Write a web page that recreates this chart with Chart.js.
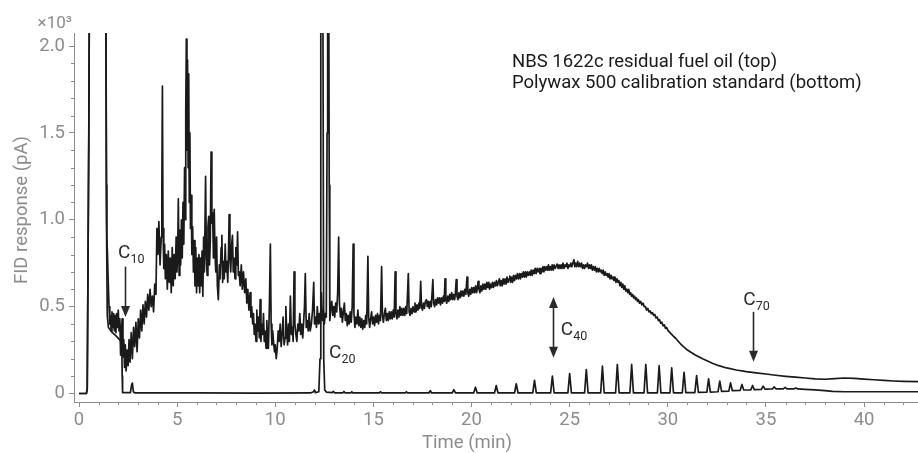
<!DOCTYPE html>
<html><head><meta charset="utf-8">
<script src="https://cdn.jsdelivr.net/npm/chart.js@4.4.1/dist/chart.umd.min.js"></script>
<style>html,body{margin:0;padding:0;background:#fff}#wrap{width:918px;height:453px;position:relative}</style>
</head><body><div id="wrap"><canvas id="c"></canvas></div>
<script>
// Time (min) , FID response (×10^3 pA) — NBS 1622c residual fuel oil (top trace)
const fuelOil = [
[0,0],[0.38,0],[0.42,0.03],[0.5,1.5],[0.54,2.6],[1.36,2.6],[1.40,1.2],[1.42,0.90],[1.45,0.80],[1.49,0.64],[1.53,0.50],[1.57,0.40],
[1.60,0.45],[1.64,0.36],[1.68,0.47],[1.72,0.38],[1.76,0.46],[1.80,0.36],[1.84,0.45],[1.88,0.35],[1.92,0.46],[1.96,0.38],[2.00,0.48],[2.04,0.36],[2.08,0.43],[2.12,0.22],[2.16,0.37],[2.20,0.43],[2.24,0.21],[2.28,0.31],[2.32,0.15],[2.36,0.28],[2.40,0.13],[2.45,0.25],[2.50,0.16],[2.55,0.31],[2.60,0.18],[2.66,0.35],[2.72,0.20],[2.78,0.38],[2.84,0.27],[2.90,0.41],[2.96,0.24],[3.02,0.43],[3.08,0.32],[3.14,0.48],[3.20,0.36],[3.26,0.51],[3.32,0.40],[3.38,0.53],[3.44,0.44],[3.50,0.57],[3.56,0.48],[3.62,0.60],[3.68,0.50],[3.74,0.56],[3.80,0.47],[3.86,0.63],[3.92,0.57],[3.97,0.95],[4.02,0.80],[4.07,0.99],[4.13,0.74],[4.19,0.90],[4.22,1.15],[4.25,1.77],[4.28,0.95],[4.32,0.72],[4.36,0.86],[4.40,0.66],[4.45,0.80],[4.50,0.60],[4.55,0.82],[4.60,0.64],[4.65,0.78],[4.70,0.58],[4.75,0.84],[4.80,0.62],[4.85,0.80],[4.90,0.66],[4.95,0.90],[4.99,0.70],[5.03,0.82],[5.06,1.12],[5.10,0.68],[5.14,0.94],[5.18,0.74],[5.22,1.00],[5.26,0.78],[5.30,1.10],[5.34,0.86],[5.38,1.30],[5.41,1.00],[5.44,1.62],[5.47,2.04],[5.50,1.40],[5.53,1.92],[5.56,1.30],[5.59,1.84],[5.62,1.10],[5.65,1.50],[5.68,0.95],[5.72,1.14],[5.75,0.80],[5.79,0.96],[5.83,0.70],[5.87,0.88],[5.91,0.62],[5.95,0.84],[5.99,0.58],[6.03,0.78],[6.07,0.62],[6.11,0.80],[6.15,0.58],[6.19,0.78],[6.23,0.62],[6.27,0.82],[6.31,0.56],[6.35,0.90],[6.39,0.70],[6.45,1.25],[6.49,0.78],[6.53,0.68],[6.57,0.96],[6.61,1.02],[6.65,0.74],[6.69,0.88],[6.73,1.39],[6.77,0.98],[6.81,1.04],[6.85,0.78],[6.89,1.06],[6.93,0.80],[6.97,0.70],[7.01,0.90],[7.05,0.62],
[7.10,0.54],[7.15,0.74],[7.19,0.66],[7.24,0.84],[7.28,0.91],[7.32,0.64],[7.36,0.76],[7.40,0.66],[7.45,0.86],[7.49,0.70],[7.53,0.76],[7.58,0.64],[7.62,0.82],[7.65,1.03],[7.69,0.78],[7.73,0.70],[7.78,0.86],[7.82,0.91],[7.86,0.70],[7.90,0.78],[7.95,0.66],[7.99,0.84],[8.04,0.74],[8.08,0.93],[8.12,0.68],[8.16,0.70],[8.21,0.62],[8.27,0.74],[8.32,0.60],[8.38,0.70],[8.44,0.58],[8.50,0.66],[8.55,0.52],[8.60,0.60],[8.66,0.48],[8.72,0.58],[8.76,0.44],[8.80,0.50],[8.85,0.40],[8.89,0.46],[8.93,0.34],[8.97,0.40],[9.02,0.30],[9.06,0.48],[9.10,0.36],[9.14,0.44],[9.19,0.32],[9.23,0.54],[9.27,0.30],[9.31,0.40],[9.36,0.34],[9.40,0.46],[9.44,0.30],[9.48,0.36],[9.53,0.26],[9.57,0.42],[9.61,0.30],[9.65,0.26],[9.70,0.50],[9.75,0.86],[9.79,0.40],[9.83,0.28],[9.87,0.36],[9.91,0.30],[9.96,0.24],[10.00,0.28],[10.05,0.20],[10.10,0.26],[10.15,0.36],[10.20,0.30],[10.25,0.40],[10.30,0.27],[10.35,0.34],[10.40,0.44],[10.45,0.28],[10.50,0.32],[10.54,0.50],[10.58,0.36],[10.63,0.28],[10.67,0.40],[10.72,0.30],[10.77,0.56],[10.82,0.34],[10.87,0.38],[10.91,0.30],[10.96,0.70],[11.00,0.40],[11.05,0.34],[11.10,0.30],[11.15,0.40],[11.20,0.36],[11.25,0.46],[11.30,0.34],[11.35,0.40],[11.40,0.32],[11.45,0.42],[11.49,0.50],[11.53,0.69],[11.58,0.38],[11.63,0.42],[11.68,0.36],[11.73,0.46],[11.78,0.36],[11.84,0.40],[11.90,0.48],[11.96,0.64],[12.00,0.40],[12.05,0.44],[12.10,0.38],[12.14,0.50],[12.20,0.40],[12.25,0.46],[12.30,0.40],[12.35,0.58],[12.40,0.42],[12.45,0.48],[12.50,0.40],[12.55,0.46],[12.60,0.44],[12.64,1.50],[12.67,2.60],[12.72,2.60],[12.75,1.20],
[12.78,0.42],[12.83,0.49],[12.88,0.53],[12.93,0.45],[12.98,0.50],[13.03,0.44],[13.08,0.52],[13.13,0.47],[13.18,0.58],[13.23,0.90],[13.27,0.52],[13.32,0.44],[13.37,0.49],[13.42,0.41],[13.47,0.47],[13.52,0.52],[13.57,0.42],[13.62,0.46],[13.67,0.39],[13.72,0.45],[13.77,0.40],[13.82,0.47],[13.87,0.41],[13.92,0.50],[13.97,0.86],[14.01,0.46],[14.06,0.38],[14.11,0.44],[14.16,0.40],[14.21,0.48],[14.26,0.39],[14.31,0.44],[14.36,0.38],[14.41,0.43],[14.46,0.37],[14.51,0.42],[14.56,0.38],[14.61,0.45],[14.66,0.40],[14.72,0.79],[14.76,0.44],[14.81,0.38],[14.86,0.43],[14.91,0.47],[14.96,0.40],[15.01,0.44],[15.06,0.39],[15.11,0.45],[15.16,0.41],[15.21,0.46],[15.26,0.40],[15.31,0.45],[15.36,0.42],[15.42,0.73],[15.46,0.45],[15.51,0.41],[15.56,0.46],[15.61,0.49],[15.66,0.42],[15.71,0.46],[15.76,0.42],[15.81,0.47],[15.86,0.43],[15.91,0.47],[15.96,0.43],[16.01,0.48],[16.06,0.44],[16.11,0.70],[16.15,0.46],[16.20,0.43],[16.25,0.48],[16.30,0.44],[16.35,0.50],[16.40,0.45],[16.45,0.49],[16.50,0.45],[16.55,0.49],[16.60,0.45],[16.65,0.50],[16.70,0.46],[16.78,0.69],[16.82,0.47],[16.87,0.45],[16.92,0.49],[16.97,0.46],[17.02,0.50],[17.07,0.47],[17.12,0.52],[17.17,0.47],[17.22,0.51],[17.27,0.48],[17.32,0.52],[17.36,0.49],[17.41,0.645],[17.45,0.50],[17.50,0.48],[17.55,0.52],[17.60,0.49],[17.65,0.53],[17.70,0.54],[17.75,0.50],[17.80,0.53],[17.85,0.49],[17.90,0.53],[17.95,0.50],[18.03,0.655],[18.07,0.52],[18.12,0.50],[18.17,0.54],[18.22,0.51],[18.27,0.55],[18.32,0.52],[18.37,0.55],[18.42,0.51],[18.47,0.55],[18.52,0.52],[18.57,0.56],[18.61,0.53],[18.65,0.66],[18.69,0.54],[18.74,0.52],[18.79,0.56],[18.84,0.53],[18.89,0.57],[18.94,0.54],[18.99,0.58],[19.04,0.54],[19.09,0.57],[19.14,0.54],[19.18,0.58],[19.22,0.655],[19.26,0.56],[19.31,0.54],[19.36,0.58],[19.41,0.55],[19.46,0.59],[19.51,0.56],[19.56,0.59],[19.61,0.56],[19.66,0.60],[19.71,0.57],[19.77,0.67],[19.81,0.58],[19.86,0.56],[19.91,0.60],[19.96,0.57],[20.01,0.61],[20.06,0.58],[20.11,0.61],[20.16,0.58],[20.21,0.62],[20.26,0.58],[20.30,0.61],[20.34,0.645],[20.38,0.60],[20.43,0.58],[20.48,0.62],[20.53,0.59],[20.58,0.63],[20.63,0.60],[20.68,0.63],[20.73,0.60],[20.78,0.64],[20.83,0.61],[20.88,0.64],
[20.92,0.60],[20.97,0.63],[21.02,0.61],[21.07,0.64],[21.12,0.61],[21.17,0.64],[21.22,0.62],[21.27,0.65],[21.32,0.62],[21.37,0.64],[21.42,0.66],[21.46,0.62],[21.51,0.65],[21.56,0.62],[21.61,0.66],[21.66,0.63],[21.71,0.66],[21.76,0.63],[21.81,0.67],[21.86,0.64],[21.91,0.66],[21.95,0.675],[21.99,0.64],[22.04,0.67],[22.09,0.64],[22.14,0.68],[22.19,0.65],[22.24,0.68],[22.29,0.66],[22.34,0.69],[22.39,0.66],[22.45,0.69],[22.49,0.66],[22.54,0.69],[22.59,0.67],[22.64,0.70],[22.69,0.67],[22.74,0.70],[22.79,0.67],[22.84,0.70],[22.89,0.68],[22.95,0.70],[22.99,0.68],[23.04,0.71],[23.09,0.68],[23.14,0.71],[23.19,0.69],[23.24,0.72],[23.29,0.69],[23.34,0.72],[23.39,0.70],[23.45,0.72],[23.49,0.69],[23.54,0.72],[23.59,0.70],[23.64,0.73],[23.69,0.70],[23.74,0.73],[23.79,0.71],[23.84,0.73],[23.88,0.71],[23.92,0.74],[23.96,0.71],[24.01,0.73],[24.06,0.71],[24.11,0.74],[24.16,0.71],[24.21,0.74],[24.26,0.72],[24.31,0.73],[24.36,0.745],[24.41,0.72],[24.46,0.74],[24.51,0.72],[24.56,0.74],[24.61,0.72],[24.66,0.75],[24.71,0.72],[24.76,0.74],[24.81,0.73],[24.86,0.75],[24.91,0.72],[24.96,0.74],[25.01,0.73],[25.06,0.75],[25.11,0.73],[25.16,0.75],[25.22,0.77],[25.26,0.73],[25.31,0.75],[25.36,0.73],[25.41,0.76],[25.46,0.73],[25.51,0.75],[25.56,0.73],[25.61,0.75],[25.66,0.72],[25.71,0.74],[25.76,0.72],[25.81,0.74],[25.86,0.73],[25.91,0.75],[25.96,0.72],[26.01,0.74],[26.06,0.72],[26.11,0.74],[26.16,0.71],[26.21,0.73],[26.26,0.71],[26.31,0.73],[26.36,0.70],[26.41,0.72],[26.46,0.70],[26.51,0.72],[26.56,0.70],[26.61,0.71],[26.66,0.69],[26.71,0.71],[26.76,0.68],[26.81,0.70],[26.86,0.68],[26.91,0.69],[26.96,0.67],[27.01,0.69],[27.06,0.66],[27.11,0.68],[27.16,0.66],[27.21,0.67],[27.26,0.65],[27.31,0.67],[27.36,0.64],[27.41,0.66],[27.46,0.64],[27.51,0.65],[27.56,0.62],[27.61,0.64],[27.66,0.61],[27.71,0.63],[27.76,0.60],[27.81,0.62],[27.86,0.59],[27.91,0.60],[27.96,0.58],[28.01,0.60],[28.06,0.57],[28.11,0.58],[28.16,0.56],[28.21,0.57],[28.26,0.55],[28.31,0.56],[28.36,0.54],[28.41,0.55],[28.46,0.53],[28.51,0.54],[28.56,0.52],[28.62,0.53],[28.68,0.51],[28.74,0.52],[28.80,0.50],[28.86,0.50],[28.92,0.48],[28.98,0.49],[29.04,0.47],[29.10,0.475],[29.16,0.46],[29.22,0.465],[29.28,0.45],[29.34,0.455],[29.40,0.435],[29.46,0.44],[29.52,0.42],[29.58,0.425],[29.64,0.405],[29.70,0.41],[29.76,0.39],[29.82,0.395],[29.88,0.375],[29.94,0.38],[30.00,0.365],[30.10,0.352],[30.20,0.34],[30.30,0.328],[30.40,0.318],[30.50,0.305],[30.60,0.292],[30.70,0.28],[30.80,0.27],[30.90,0.26],[31.00,0.25],[31.20,0.236],[31.40,0.222],[31.60,0.21],[31.80,0.198],[32.00,0.188],[32.30,0.173],[32.60,0.160],[33.00,0.147],[33.50,0.135],[34.00,0.126],[34.50,0.119],[35.00,0.112],[35.50,0.105],[36.00,0.099],[36.50,0.094],[37.00,0.089],[37.50,0.084],[38.00,0.082],[38.50,0.085],[39.00,0.089],[39.50,0.087],[40.00,0.083],[40.50,0.079],[41.00,0.075],[41.50,0.072],[42.00,0.070],[42.75,0.068]
];

// Time (min) , FID response (×10^3 pA) — Polywax 500 calibration standard (bottom trace)
const polywax = [
[0,0],[0.38,0],[0.42,0.03],[0.5,1.5],[0.54,2.6],[1.36,2.6],[1.40,1.0],[1.44,0.45],[1.50,0.38],[1.70,0.35],[1.90,0.33],[2.10,0.305],[2.18,0.29],[2.20,0.10],[2.22,0.005],[2.62,0.005],[2.68,0.05],[2.72,0.06],[2.77,0.01],[2.85,0.003],[6.0,0.003],[9.0,0.002],[11.8,0.003],[11.95,0.01],[12.0,0.02],[12.05,0.005],[12.22,0.01],[12.28,0.2],[12.32,2.6],[12.42,2.6],[12.47,0.2],[12.52,0.02],[12.6,0.008],[12.9,0.005],[12.96,0.012],[13.02,0.004],[13.45,0.004],[13.5,0.012],[13.55,0.004],[13.85,0.004],[13.9,0.01],[13.95,0.004],[15.3,0.003],[15.36,0.01],[15.42,0.003],[16.62,0.003],[16.68,0.01],[16.74,0.003],[17.83,0.003],[17.9,0.016],[17.97,0.003],[19.02,0.003],[19.1,0.022],[19.18,0.003],[20.11,0.003],[20.2,0.036],[20.29,0.003],[21.17,0.003],[21.26,0.046],[21.35,0.003],[22.19,0.003],[22.28,0.056],[22.37,0.003],[23.12,0.003],[23.21,0.075],[23.30,0.003],[24.03,0.003],[24.12,0.10],[24.21,0.003],[24.91,0.003],[25.0,0.115],[25.09,0.003],[25.76,0.003],[25.85,0.138],[25.94,0.003],[26.58,0.003],[26.67,0.157],[26.76,0.003],[27.34,0.003],[27.43,0.167],[27.52,0.003],[28.07,0.003],[28.16,0.167],[28.25,0.003],[28.79,0.003],[28.88,0.167],[28.97,0.003],[29.47,0.003],[29.56,0.160],[29.65,0.003],[30.11,0.003],[30.2,0.148],[30.29,0.004],[30.74,0.004],[30.83,0.122],[30.92,0.005],[31.38,0.005],[31.47,0.103],[31.56,0.006],[31.99,0.007],[32.08,0.084],[32.17,0.008],[32.56,0.010],[32.65,0.071],[32.74,0.012],[33.11,0.014],[33.2,0.061],[33.29,0.016],[33.69,0.018],[33.78,0.052],[33.87,0.020],[34.23,0.021],[34.32,0.046],[34.41,0.022],[34.77,0.024],[34.86,0.042],[34.95,0.025],[35.33,0.026],[35.42,0.038],[35.51,0.027],[35.89,0.027],[35.98,0.035],[36.07,0.027],[36.44,0.027],[36.53,0.032],[36.62,0.026],[37.0,0.024],[37.5,0.021],[38.0,0.017],[38.4,0.012],[39.0,0.010],[42.75,0.010]
];

const xTickValues = [0, 5, 10, 15, 20, 25, 30, 35, 40];
const yTickLabels = ['0', '0.5', '1.0', '1.5', '2.0'];
const legendLines = ['NBS 1622c residual fuel oil (top)', 'Polywax 500 calibration standard (bottom)'];
const carbonNames = ['C', 'C', 'C', 'C'];
const carbonSubs = ['10', '20', '40', '70'];

const FONT = 'Roboto, "Noto Sans", sans-serif';
const FS = 18.5;
const GREY = '#8c8c8c';
const INK = '#1a1a1a';
const ANN = '#2a2a2a';

// annotation placement (in data units)
const annot = [
  {lt: 1.99, lv: 0.78, arrow: {t: 2.33, from: 0.73, to: 0.44, both: false}},
  {lt: 12.74, lv: 0.205, arrow: null},
  {lt: 24.55, lv: 0.337, arrow: {t: 24.13, from: 0.555, to: 0.205, both: true}},
  {lt: 33.85, lv: 0.509, arrow: {t: 34.33, from: 0.47, to: 0.183, both: false}}
];

function head(ctx, x, y, dir) {
  ctx.beginPath();
  ctx.moveTo(x, y);
  ctx.lineTo(x - 4.5, y - dir * 11);
  ctx.lineTo(x + 4.5, y - dir * 11);
  ctx.closePath();
  ctx.fill();
}

const decor = {
  id: 'decor',
  afterDraw(chart) {
    const {ctx, chartArea: a, scales: {x, y}} = chart;
    ctx.save();
    ctx.strokeStyle = GREY; ctx.lineWidth = 1;
    for (let t = 0; t <= 42; t++) {
      if (t % 5 === 0) continue;
      const px = Math.round(x.getPixelForValue(t)) + 0.5;
      ctx.beginPath(); ctx.moveTo(px, a.bottom); ctx.lineTo(px, a.bottom + 3); ctx.stroke();
    }
    for (let i = 1; i <= 20; i++) {
      if (i % 5 === 0) continue;
      const py = Math.round(y.getPixelForValue(i / 10)) + 0.5;
      ctx.beginPath(); ctx.moveTo(a.left, py); ctx.lineTo(a.left - 3, py); ctx.stroke();
    }
    ctx.fillStyle = GREY;
    ctx.font = FS + 'px ' + FONT;
    ctx.textAlign = 'center'; ctx.textBaseline = 'middle';
    ctx.fillText('Time (min)', a.left + 393, a.bottom + 41);
    ctx.save();
    ctx.translate(a.left - 52, 210);
    ctx.rotate(-Math.PI / 2);
    ctx.fillText('FID response (pA)', 0, 0);
    ctx.restore();
    ctx.textAlign = 'right'; ctx.textBaseline = 'alphabetic';
    ctx.font = '17px ' + FONT;
    ctx.fillText('×10³', a.left - 2, a.top - 5);
    ctx.fillStyle = INK;
    ctx.textAlign = 'left';
    ctx.font = FS + 'px ' + FONT;
    ctx.fillText(legendLines[0], 512, 67);
    ctx.fillText(legendLines[1], 512, 88);
    ctx.fillStyle = ANN; ctx.strokeStyle = ANN;
    annot.forEach((an, i) => {
      const lx = x.getPixelForValue(an.lt), ly = y.getPixelForValue(an.lv);
      ctx.font = '19px ' + FONT;
      ctx.textAlign = 'left';
      ctx.fillText(carbonNames[i], lx, ly);
      const w = ctx.measureText(carbonNames[i]).width;
      ctx.font = '12.5px ' + FONT;
      ctx.fillText(carbonSubs[i], lx + w, ly + 5);
      if (an.arrow) {
        const ax = Math.round(x.getPixelForValue(an.arrow.t)) + 0.5;
        const y1 = y.getPixelForValue(an.arrow.from), y2 = y.getPixelForValue(an.arrow.to);
        ctx.lineWidth = 1.6;
        ctx.beginPath();
        ctx.moveTo(ax, an.arrow.both ? y1 + 8 : y1);
        ctx.lineTo(ax, y2 - 8);
        ctx.stroke();
        head(ctx, ax, y2, 1);
        if (an.arrow.both) head(ctx, ax, y1, -1);
      }
    });
    ctx.restore();
  }
};

const toXY = arr => arr.map(([t, v]) => ({x: t, y: v}));

new Chart(document.getElementById('c'), {
  type: 'scatter',
  data: {
    datasets: [
      {label: legendLines[0], data: toXY(fuelOil), showLine: true, borderColor: INK, borderWidth: 1.7, pointRadius: 0, tension: 0, borderJoinStyle: 'round'},
      {label: legendLines[1], data: toXY(polywax), showLine: true, borderColor: INK, borderWidth: 1.7, pointRadius: 0, tension: 0, borderJoinStyle: 'round'}
    ]
  },
  options: {
    responsive: true, maintainAspectRatio: false, animation: false,
    layout: {padding: {top: 33, right: 0, bottom: 0, left: 0}},
    plugins: {legend: {display: false}, tooltip: {enabled: false}},
    scales: {
      x: {
        type: 'linear', min: -0.255, max: 42.75,
        afterFit(s) { s.height = 51; },
        afterBuildTicks(s) { s.ticks = xTickValues.map(v => ({value: v})); },
        ticks: {stepSize: 5, includeBounds: false, color: GREY, font: {family: FONT, size: FS}, padding: 2, maxRotation: 0, autoSkip: false},
        grid: {display: true, drawOnChartArea: false, drawTicks: true, tickLength: 5, tickColor: GREY, tickWidth: 1},
        border: {display: true, color: GREY, width: 1}
      },
      y: {
        type: 'linear', min: -0.049, max: 2.075,
        afterFit(s) { s.width = 74; },
        afterBuildTicks(s) { s.ticks = yTickLabels.map(l => ({value: parseFloat(l)})); },
        ticks: {stepSize: 0.5, includeBounds: false, color: GREY, font: {family: FONT, size: FS}, padding: 4,
          callback: (v, i) => yTickLabels[i]},
        grid: {display: true, drawOnChartArea: false, drawTicks: true, tickLength: 5, tickColor: GREY, tickWidth: 1},
        border: {display: true, color: GREY, width: 1}
      }
    }
  },
  plugins: [decor]
});
</script>
</body></html>
